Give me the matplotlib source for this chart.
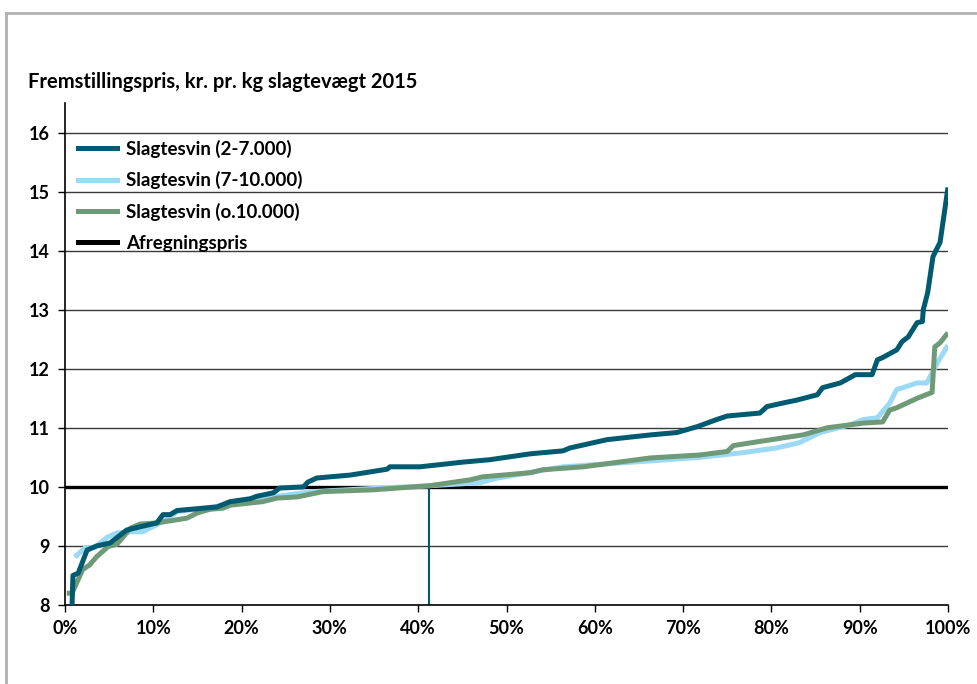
import matplotlib.pyplot as plt
from matplotlib.lines import Line2D

# andel af bedrifter (%) og fremstillingspris (kr. pr. kg)
x_small = [0.8, 0.9, 1.5, 2.5, 3.6, 5.1, 7.0, 10.4, 11.1, 11.9, 12.7, 17.2, 18.7, 21.0, 21.7,
           23.6, 24.3, 27.0, 27.5, 28.5, 32.3, 36.5, 36.8, 40.2, 45.1, 48.1, 52.7, 56.4, 57.2,
           61.4, 66.3, 69.3, 71.6, 73.8, 75.0, 78.7, 79.5, 81.3, 82.9, 85.2, 85.8, 87.8, 88.9,
           89.5, 91.4, 92.0, 92.6, 94.2, 94.8, 95.5, 96.5, 97.1, 97.2, 97.7, 98.3, 99.1, 100]
y_small = [8.0, 8.5, 8.54, 8.93, 9.0, 9.05, 9.27, 9.39, 9.53, 9.53, 9.6, 9.66, 9.75, 9.8, 9.84,
           9.9, 9.98, 10.0, 10.08, 10.15, 10.2, 10.3, 10.34, 10.34, 10.42, 10.46, 10.56, 10.61, 10.66,
           10.8, 10.88, 10.92, 11.02, 11.14, 11.2, 11.25, 11.36, 11.42, 11.47, 11.56, 11.68, 11.76, 11.85,
           11.9, 11.9, 12.15, 12.19, 12.32, 12.46, 12.54, 12.78, 12.8, 13.0, 13.29, 13.9, 14.14, 15.07]

x_mid = [1.1, 2.3, 3.4, 4.8, 5.9, 7.4, 8.8, 10.4, 11.6, 12.7, 16.8, 22.4, 28.1, 35.7, 41.3,
         47.0, 49.0, 56.4, 66.3, 71.9, 76.8, 80.6, 83.2, 85.5, 88.9, 90.4, 92.0, 93.4, 94.2,
         94.9, 96.5, 97.6, 98.8, 100]
y_mid = [8.81, 8.97, 8.98, 9.15, 9.22, 9.24, 9.24, 9.36, 9.47, 9.58, 9.66, 9.81, 9.92, 9.98, 10.02,
         10.07, 10.15, 10.34, 10.44, 10.5, 10.58, 10.66, 10.75, 10.92, 11.05, 11.14, 11.17, 11.42, 11.65,
         11.68, 11.76, 11.76, 12.1, 12.4]

x_large = [0.2, 0.8, 2.0, 2.8, 3.6, 4.9, 5.9, 7.4, 8.5, 10.4, 13.8, 15.0, 16.4, 17.9, 18.7,
           22.4, 24.0, 26.3, 29.2, 34.9, 41.3, 45.9, 47.3, 52.7, 54.1, 58.7, 66.3, 71.9, 75.0,
           75.7, 81.3, 83.6, 86.3, 90.4, 92.6, 93.4, 94.2, 96.5, 98.2, 98.5, 99.1, 100]
y_large = [8.2, 8.2, 8.6, 8.68, 8.82, 8.99, 9.03, 9.3, 9.37, 9.39, 9.47, 9.56, 9.62, 9.64, 9.69,
           9.75, 9.81, 9.83, 9.92, 9.95, 10.02, 10.12, 10.17, 10.24, 10.29, 10.34, 10.49, 10.54, 10.6,
           10.7, 10.83, 10.88, 11.0, 11.08, 11.1, 11.3, 11.34, 11.5, 11.6, 12.37, 12.44, 12.61]

settlement_price = 10.0
marker_pct = 41.2

labels = ['Slagtesvin (2-7.000)', 'Slagtesvin (7-10.000)', 'Slagtesvin (o.10.000)', 'Afregningspris']
c_dark = '#005b70'
c_light = '#9bd9f5'
c_green = '#6e9a78'

plt.rcParams['font.family'] = ['Lato', 'DejaVu Sans']

fig = plt.figure(figsize=(9.78, 6.84), dpi=100)
ax = fig.add_axes([65/978, 1-605/684, (948-65)/978, (605-103)/684])

# outer frame (top and left grey edge)
fig.add_artist(Line2D([6/978, 1], [1-13/684, 1-13/684], color='#b0b0b0', lw=2))
fig.add_artist(Line2D([6/978, 6/978], [0, 1-13/684], color='#b0b0b0', lw=2))

for yv in range(9, 17):
    ax.axhline(yv, color='#3a3a3a', lw=1, zorder=1)

ax.plot([marker_pct, marker_pct], [8, settlement_price], color=c_dark, lw=1.5, zorder=2)
ax.plot(x_mid, y_mid, color=c_light, lw=3.6, zorder=3, solid_capstyle='butt')
ax.plot(x_large, y_large, color=c_green, lw=3.6, zorder=4, solid_capstyle='butt')
ax.plot(x_small, y_small, color=c_dark, lw=3.6, zorder=5, solid_capstyle='butt')
ax.axhline(settlement_price, color='black', lw=2.4, zorder=2.5)

ax.set_xlim(0, 100)
ax.set_ylim(8, 16.5)
ax.set_yticks(range(8, 17))
ax.set_xticks(range(0, 101, 10))
ax.set_xticklabels([f'{v}%' for v in range(0, 101, 10)])
ax.tick_params(axis='both', labelsize=13, length=5, width=1, direction='out', pad=6)
for lab in ax.get_xticklabels() + ax.get_yticklabels():
    lab.set_fontweight('bold')
for s in ['top', 'right']:
    ax.spines[s].set_visible(False)
ax.spines['left'].set_linewidth(1.2)
ax.spines['bottom'].set_linewidth(1.2)

handles = [Line2D([], [], color=c, lw=3.6) for c in [c_dark, c_light, c_green, 'black']]
leg = ax.legend(handles, labels, loc='upper left', bbox_to_anchor=(0.0, 0.953), frameon=False,
                fontsize=13.5, handlelength=2.1, labelspacing=0.72, handletextpad=0.45,
                borderaxespad=0.3)
for t in leg.get_texts():
    t.set_fontweight('bold')

fig.text(28/978, 1-82/684, 'Fremstillingspris, kr. pr. kg slagtevægt 2015', fontsize=14.5,
         fontweight='bold', va='center', ha='left')

fig.savefig('out.png', dpi=100, facecolor='white')
